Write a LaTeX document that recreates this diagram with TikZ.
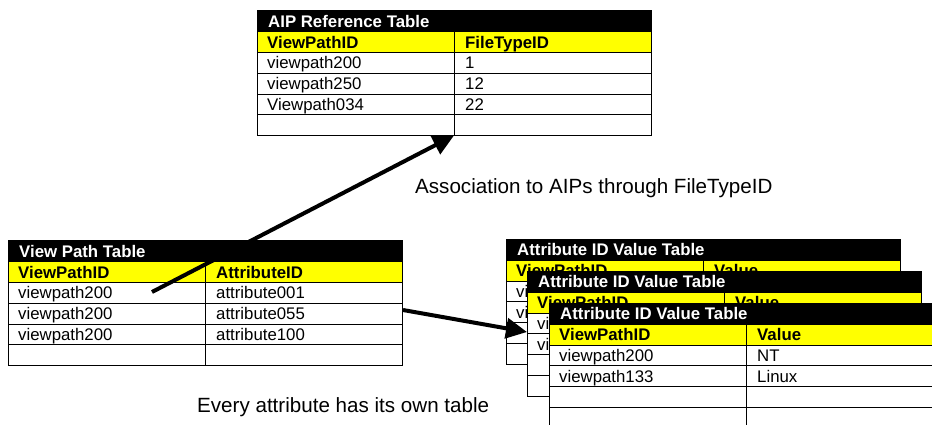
\documentclass[tikz,border=0pt]{standalone}
\usepackage{fontspec}
\setmainfont{Liberation Sans}
\usetikzlibrary{arrows.meta}

\newcommand\tabfont{\fontsize{16.8}{19}\selectfont}
\newcommand\capfont{\fontsize{20.6}{24}\selectfont}

\tikzset{
  grid/.style={draw=black, line width=1pt},
  hdrfill/.style={fill={rgb,255:red,255;green,255;blue,0}},
  ttl/.style={anchor=base west, inner sep=0pt, text=white, font=\tabfont\bfseries},
  hcell/.style={anchor=base west, inner sep=0pt, font=\tabfont\bfseries},
  cell/.style={anchor=base west, inner sep=0pt, font=\tabfont},
  caption/.style={anchor=base west, inner sep=0pt, font=\capfont},
  link/.style={line width=4pt, -{Triangle[length=21pt,width=20pt]}},
  tbox/.style={anchor=north west, inner sep=0pt, minimum width=394pt, minimum height=125pt, fill=white}
}

% \dbtable{name}{x}{y}{title}{header 1}{header 2}{rows as a/b, c/d, ...}
% Two columns, a title bar, a yellow header row and four data rows.
\newcommand\dbtable[7]{%
  \begin{scope}[shift={(#2,#3)}]
    \node[tbox, name=#1] at (0,0) {};
    \fill[black] (0,0) rectangle (394,21);
    \fill[hdrfill] (0,21) rectangle (394,42);
    \foreach \yy in {21,42,62.75,83.5,104.25}{\draw[grid] (0,\yy) -- (394,\yy);}
    \draw[grid] (197,21) -- (197,125);
    \draw[grid] (0,0) rectangle (394,125);
    \node[ttl, name=#1-title] at (11,16.5) {#4};
    \node[hcell, name=#1-h1] at (10,37.5) {#5};
    \node[hcell, name=#1-h2] at (208,37.5) {#6};
    \foreach \a/\b [count=\i] in {#7}{%
      \node[cell, name=#1-r\i a] at (10,{42+20.75*\i-4.5}) {\a};
      \node[cell, name=#1-r\i b] at (208,{42+20.75*\i-4.5}) {\b};
    }
    \coordinate (#1-split) at (197,125);
  \end{scope}}

\begin{document}
\begin{tikzpicture}[x=1pt,y=-1pt]
  \useasboundingbox (0,0) rectangle (932,424);
  \fill[white] (0,0) rectangle (932,424);
  \clip (0,0) rectangle (932,424);

  % reference table of AIPs
  \dbtable{aip}{257}{10.5}{AIP Reference Table}{ViewPathID}{FileTypeID}
    {viewpath200/1, viewpath250/12, Viewpath034/22}

  % view path table
  \dbtable{vpt}{8}{240.5}{View Path Table}{ViewPathID}{AttributeID}
    {viewpath200/attribute001, viewpath200/attribute055, viewpath200/attribute100}

  % stack of per-attribute value tables
  \dbtable{attrA}{506}{239}{Attribute ID Value Table}{ViewPathID}{Value}
    {viewpath200/NT, viewpath133/Linux}

  \coordinate (vpt-out) at (403,310);
  \coordinate (attr-in) at (527,332);
  \draw[link] (vpt-out) -- (attr-in);

  \dbtable{attrB}{527}{271}{Attribute ID Value Table}{ViewPathID}{Value}
    {viewpath200/NT, viewpath133/Linux}
  \dbtable{attrC}{549}{303}{Attribute ID Value Table}{ViewPathID}{Value}
    {viewpath200/NT, viewpath133/Linux}

  % association of view paths to AIPs
  \coordinate (vpt-row) at (152,292);
  \draw[link] (vpt-row) -- (aip-split);

  \node[caption, name=cap-aip] at (415,193) {Association to AIPs through FileTypeID};
  \node[caption, name=cap-attr] at (197,412) {Every attribute has its own table};
\end{tikzpicture}
\end{document}
